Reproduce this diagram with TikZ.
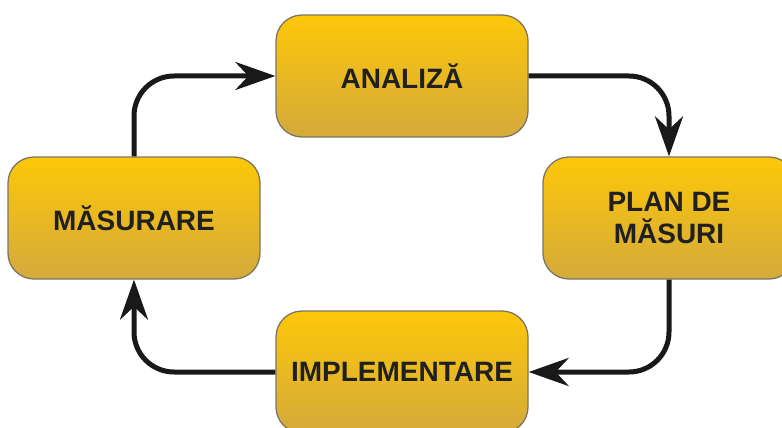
\documentclass[tikz,border=0pt]{standalone}
\usepackage{fontspec}
\setmainfont{Liberation Sans}
\usetikzlibrary{arrows.meta}
\definecolor{boxtop}{RGB}{253,199,8}
\definecolor{boxbot}{RGB}{212,170,60}
\definecolor{boxedge}{RGB}{125,118,100}
\definecolor{txt}{RGB}{32,32,32}
\definecolor{arr}{RGB}{25,25,25}
\begin{document}
\begin{tikzpicture}[x=1pt,y=-1pt,
  stagebox/.style={draw=boxedge, line width=1.3pt, rounded corners=26pt,
    top color=boxtop, bottom color=boxbot,
    minimum width=252pt, minimum height=122pt, inner sep=0pt,
    font=\bfseries\fontsize{28}{32}\selectfont, text=txt, align=center},
  flow/.style={line width=5pt, draw=arr, rounded corners=40pt,
    -{Stealth[length=40pt,width=28pt,inset=13pt]}}]
\useasboundingbox (0,0) rectangle (782,428);
\clip (0,0) rectangle (782,428);
\fill[white] (0,0) rectangle (782,428);
\node[stagebox] (A) at (402,76) {ANALIZĂ};
\node[stagebox] (P) at (669,218) {PLAN DE\\MĂSURI};
\node[stagebox] (I) at (402,372) {IMPLEMENTARE};
\node[stagebox] (M) at (134,218) {MĂSURARE};
\draw[flow] (A.east) -| (P.north);
\draw[flow] (P.south) |- (I.east);
\draw[flow] (I.west) -| (M.south);
\draw[flow] (M.north) |- (A.west);
\end{tikzpicture}
\end{document}
